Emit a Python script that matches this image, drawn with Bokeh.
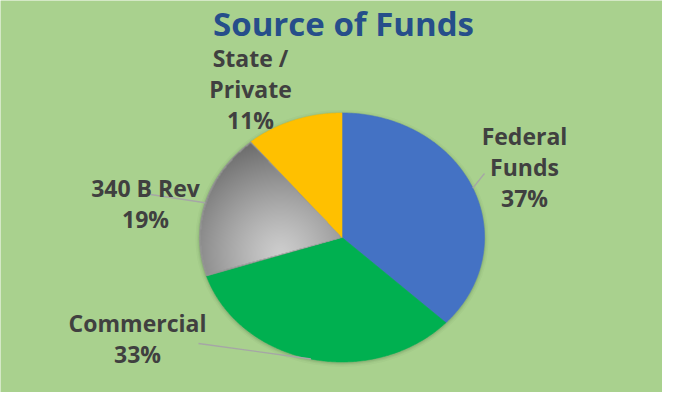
import numpy as np
from bokeh.plotting import figure
from bokeh.models import Range1d
from bokeh.core.properties import value
from bokeh.embed import file_html
from bokeh.resources import INLINE

# ---- data ----
categories = ["Federal Funds", "Commercial", "340 B Rev", "State / Private"]
values = [37, 33, 19, 11]
label_names = [["Federal", "Funds"], ["Commercial"], ["340 B Rev"], ["State /", "Private"]]
colors = ["#4472c4", "#00b050", "#a5a5a5", "#ffc000"]
title_text = "Source of Funds"

# ---- layout (figure pixel units: 1 data unit = 1 px) ----
W, H = 662, 392
cx, cy = 341.5, 155.0
rx, ry = 142.5, 124.5
label_pos = [(524, 257), (137, 70), (145, 205), (250, 335)]  # centre of first line
line_gap = 31
label_anchor = [(484, 219), (198, 49), (150, 198), None]

p = figure(width=W, height=H, output_backend="svg", toolbar_location=None,
           x_range=Range1d(0, W), y_range=Range1d(0, H), min_border=0,
           background_fill_color="#a9d18e", border_fill_color="#a9d18e",
           outline_line_color=None)
p.axis.visible = False
p.grid.visible = False

# soft shadow
for k, a in [(8, 0.03), (5, 0.04), (3, 0.05), (1.5, 0.06)]:
    p.ellipse(x=[cx], y=[cy - 1], width=[2 * rx + k], height=[2 * ry + k],
              fill_color="#1d3a10", fill_alpha=a, line_color=None)

total = float(sum(values))
cum = np.concatenate([[0], np.cumsum(values)]) / total
starts = 90 - cum[:-1] * 360
ends = 90 - cum[1:] * 360

xs, ys = [], []
for a0, a1 in zip(starts, ends):
    t = np.radians(np.linspace(a0, a1, 200))
    xs.append(np.concatenate([[cx], cx + rx * np.cos(t)]).tolist())
    ys.append(np.concatenate([[cy], cy + ry * np.sin(t)]).tolist())

fills = list(colors)
fills[2] = "#959595"
p.patches(xs, ys, fill_color=fills, line_color=fills, line_width=0.6)

# radial gradient on the grey slice
gi = 2
x0, x1 = int(cx - rx) - 1, int(cx) + 2
y0, y1 = int(cy - ry) - 1, int(cy + ry) + 2
gx = np.arange(x0, x1) + 0.5
gy = np.arange(y0, y1) + 0.5
GX, GY = np.meshgrid(gx, gy)
u = (GX - cx) / rx
v = (GY - cy) / ry
r = np.sqrt(u ** 2 + v ** 2)
ang = np.degrees(np.arctan2(v, u)) % 360
a_lo = ends[gi] % 360
a_hi = starts[gi] % 360
if a_hi < a_lo:
    a_hi += 360
ang2 = np.where(ang < a_lo, ang + 360, ang)
mask = (r <= 1 - 1.2 / rx) & (ang2 >= a_lo + 0.6) & (ang2 <= a_hi - 0.6) & (r > 0.02)
gcx, gcy = 280.0, 139.0
d = np.sqrt((GX - gcx) ** 2 + (GY - gcy) ** 2)
shade = np.clip(205 - 95 * np.clip(d / 112.0, 0, 1) ** 1.2, 0, 255).astype(np.uint8)
img = np.zeros(GX.shape, dtype=np.uint32)
view = img.view(dtype=np.uint8).reshape(GX.shape + (4,))
view[..., 0] = shade
view[..., 1] = shade
view[..., 2] = shade
view[..., 3] = np.where(mask, 255, 0).astype(np.uint8)
p.image_rgba(image=[img], x=x0, y=y0, dw=x1 - x0, dh=y1 - y0)

# leader lines from slice mid-angle to labels
mids = np.radians((starts + ends) / 2)
lx0, ly0, lx1, ly1 = [], [], [], []
for i, anc in enumerate(label_anchor):
    if anc is None:
        continue
    lx0.append(cx + rx * np.cos(mids[i]))
    ly0.append(cy + ry * np.sin(mids[i]))
    lx1.append(anc[0])
    ly1.append(anc[1])
p.segment(x0=lx0, y0=ly0, x1=lx1, y1=ly1, line_color="#a6a6a6", line_width=1.3)

# labels
tx, ty, tt = [], [], []
for i, names in enumerate(label_names):
    lines = names + [f"{values[i]}%"]
    bx, by = label_pos[i]
    for j, s in enumerate(lines):
        tx.append(bx)
        ty.append(by - j * line_gap)
        tt.append(s)
p.text(x=tx, y=ty, text=tt, text_font=value("Open Sans"), text_font_style="bold",
       text_font_size="23px", text_color="#404040", text_align="center",
       text_baseline="middle")

p.text(x=[343], y=[369], text=[title_text], text_font=value("Open Sans"),
       text_font_style="bold", text_font_size="33px", text_color="#264e8a",
       text_align="center", text_baseline="middle")

open("out.html", "w").write(file_html(p, INLINE))
